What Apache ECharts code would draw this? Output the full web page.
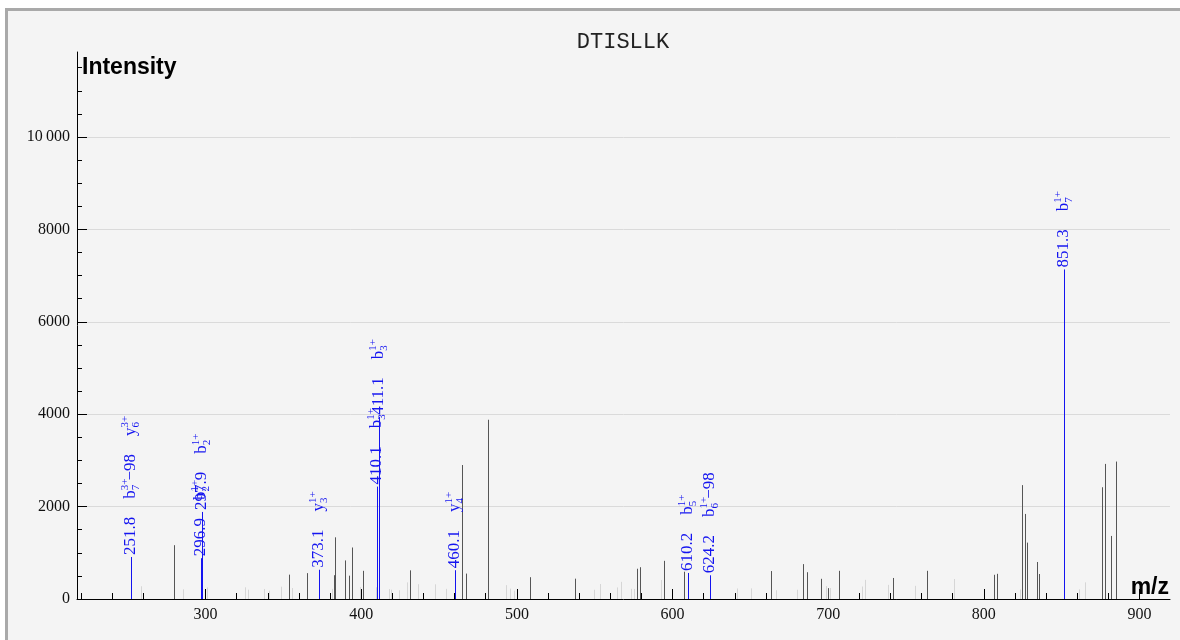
<!DOCTYPE html>
<html>
<head>
<meta charset="utf-8">
<title>DTISLLK</title>
<script src="https://cdn.jsdelivr.net/npm/echarts@6/dist/echarts.min.js"></script>
<style>
    html, body { margin: 0; padding: 0; background: #fff; overflow: hidden; }
    #frame { position: absolute; left: 5px; top: 8px; width: 1200px; height: 700px; border: 3px solid #a9a9a9; background: #f4f4f4; }
    #main { position: absolute; left: 0; top: 0; width: 1180px; height: 640px; }
</style>
</head>
<body>
<div id="frame"></div>
<div id="main"></div>
<script>
// 肽段谱图 - 数据
const peptide = 'DTISLLK';
const xTickLabels = [300, 400, 500, 600, 700, 800, 900];
const yTickLabels = [0, 2000, 4000, 6000, 8000, 10000];

// 已匹配碎片离子（蓝色）
const matchedMz = [251.8, 296.9, 297.9, 373.1, 410.1, 411.1, 460.1, 610.2, 624.2, 851.3];
const matchedIntensity = [866, 840, 820, 590, 2390, 3900, 580, 520, 470, 7090];
const matchedIons = [
    ['b7^3+ \u221298', 'y6^3+'], ['b2^1+'], ['b2^1+'], ['y3^1+'], ['b3^1+'],
    ['b3^1+'], ['y4^1+'], ['b5^1+'], ['b6^1+ \u221298'], ['b7^1+']
];

// 未匹配峰（深灰）
const darkMz = [280.0, 353.3, 365.2, 382.2, 383.4, 389.3, 392.2, 394.2, 401.4, 431.3,
    464.8, 467.5, 481.3, 508.2, 537.4, 577.3, 579.4, 594.4, 607.3, 663.4,
    683.6, 686.5, 695.6, 700.1, 706.7, 741.6, 763.5, 806.6, 808.6, 824.6,
    826.6, 827.8, 833.9, 835.6, 875.7, 877.6, 881.9, 884.7];
const darkIntensity = [1165, 527, 560, 515, 1335, 835, 505, 1115, 610, 620,
    2900, 550, 3880, 472, 440, 655, 688, 826, 590, 605,
    755, 580, 437, 235, 610, 455, 610, 524, 545, 2465,
    1841, 1220, 801, 541, 2419, 2924, 1365, 2975];

// 噪声峰（浅灰）
const lightMz = [258.2, 285.2, 301.0, 325.4, 327.5, 337.4, 340.9, 348.3, 355.4, 381.2,
    399.4, 409.2, 417.7, 419.3, 424.4, 429.3, 436.3, 447.2, 454.2, 493.2,
    495.7, 498.2, 549.4, 553.4, 564.3, 566.8, 573.4, 575.1, 592.3, 641.5,
    650.4, 666.4, 679.7, 698.6, 701.1, 721.8, 723.5, 738.6, 755.6, 780.7,
    823.2, 861.3, 864.7];
const lightIntensity = [275, 210, 250, 253, 202, 217, 180, 267, 238, 220,
    260, 253, 215, 202, 190, 360, 320, 318, 220, 300,
    224, 180, 200, 325, 250, 372, 220, 217, 412, 228,
    230, 190, 200, 280, 238, 270, 415, 306, 285, 433,
    205, 209, 361];

const blue = '#1414f0';
const labelFont = 'Liberation Serif';

// 刻度位置
const minorX = [];
for (let v = 220; v <= 900; v += 20) {
    if (v % 100 !== 0) minorX.push(v);
}
const minorY = [];
for (let v = 500; v <= 11500; v += 500) {
    if (v % 2000 !== 0) minorY.push(v);
}

function pairs(xs, ys) {
    return xs.map((x, i) => [x, ys[i]]);
}

// 竖线峰
function peakRenderer(color) {
    return function (params, api) {
        const base = api.coord([api.value(0), 0]);
        const top = api.coord([api.value(0), api.value(1)]);
        const x = Math.round(base[0]) + 0.5;
        return {
            type: 'line',
            shape: { x1: x, y1: base[1], x2: x, y2: top[1] },
            style: { stroke: color, lineWidth: 1 }
        };
    };
}

// 离子名称 -> 富文本
function ionRich(s) {
    const m = s.match(/^([a-z])(\d+)\^(\d\+)(.*)$/);
    let txt = `{ion|${m[1]}}{sup|${m[3]}}{sub|${m[2]}}`;
    if (m[4]) txt += `{ion|${m[4]}}`;
    return txt;
}

const measureCtx = document.createElement('canvas').getContext('2d');
measureCtx.font = `17px "${labelFont}"`;

let prevLabel = null;
function matchedRenderer(params, api) {
    if (params.dataIndex === 0) prevLabel = null;
    const i = params.dataIndex;
    const base = api.coord([api.value(0), 0]);
    const top = api.coord([api.value(0), api.value(1)]);
    const x = Math.round(base[0]) + 0.5;
    const numText = matchedMz[i].toFixed(1);
    let start = top[1] - 4;
    // 避免与相邻标签重叠
    if (prevLabel && x - prevLabel.x < 12 && start > prevLabel.numEnd - 8) {
        start = prevLabel.numEnd - 8;
    }
    const numWidth = measureCtx.measureText(numText).width;
    prevLabel = { x: x, numEnd: start - numWidth };

    const text = `{num|${numText}}` + matchedIons[i].map(s => '{gap| }' + ionRich(s)).join('');
    return {
        type: 'group',
        children: [
            {
                type: 'line',
                shape: { x1: x, y1: base[1], x2: x, y2: Math.min(top[1], start + 2) },
                style: { stroke: blue, lineWidth: 1 }
            },
            {
                type: 'text',
                x: x - 1,
                y: start,
                rotation: Math.PI / 2,
                style: {
                    text: text,
                    fill: blue,
                    align: 'left',
                    verticalAlign: 'middle',
                    fontFamily: labelFont,
                    fontSize: 17,
                    rich: {
                        num: { fontFamily: labelFont, fontSize: 17, fill: blue },
                        ion: { fontFamily: labelFont, fontSize: 17, fill: blue, lineHeight: 22 },
                        gap: { fontFamily: labelFont, fontSize: 17, width: 18 },
                        sup: { fontFamily: labelFont, fontSize: 11, fill: blue, verticalAlign: 'top', width: 0.01, lineHeight: 11 },
                        sub: { fontFamily: labelFont, fontSize: 11, fill: blue, verticalAlign: 'bottom', lineHeight: 11 }
                    }
                }
            }
        ]
    };
}

const xMin = 217.4;
const xMax = 919.6;
const yMax = 11840;

const axisText = { fontFamily: labelFont, fontSize: 16, color: '#111' };

const chart = echarts.init(document.getElementById('main'), null, { renderer: 'canvas' });

const option = {
    animation: false,
    backgroundColor: 'transparent',
    title: {
        text: peptide,
        left: 618,
        textAlign: 'center',
        top: 26,
        textStyle: { fontFamily: 'Liberation Mono', fontSize: 22, fontWeight: 'normal', color: '#222' }
    },
    grid: { left: 77, right: 10, top: 52, bottom: 41, outerBoundsMode: 'none' },
    xAxis: [
        {
            type: 'value',
            min: xMin,
            max: xMax,
            name: 'm/z',
            nameLocation: 'end',
            nameGap: -1,
            nameTextStyle: { fontFamily: 'Liberation Sans', fontSize: 23, fontWeight: 'bold', color: '#000', align: 'right', verticalAlign: 'bottom' },
            axisLine: { show: true, lineStyle: { color: '#000', width: 1 } },
            axisTick: { show: true, inside: true, length: 6, customValues: minorX, lineStyle: { color: '#000' } },
            axisLabel: { show: true, margin: 8, customValues: xTickLabels, ...axisText },
            splitLine: { show: false }
        },
        {
            type: 'value',
            min: xMin,
            max: xMax,
            position: 'bottom',
            axisLine: { show: false },
            axisTick: { show: true, inside: true, length: 10, customValues: xTickLabels, lineStyle: { color: '#000' } },
            axisLabel: { show: false },
            splitLine: { show: false }
        }
    ],
    yAxis: [
        {
            type: 'value',
            min: 0,
            max: yMax,
            interval: 2000,
            name: 'Intensity',
            nameLocation: 'end',
            nameGap: -16,
            nameTextStyle: { fontFamily: 'Liberation Sans', fontSize: 23, fontWeight: 'bold', color: '#000', align: 'left', verticalAlign: 'middle', padding: [0, 0, 0, 5] },
            axisLine: { show: true, lineStyle: { color: '#000', width: 1 } },
            axisTick: { show: true, inside: true, length: 10, customValues: yTickLabels, lineStyle: { color: '#000' } },
            axisLabel: {
                show: true,
                margin: 7,
                customValues: yTickLabels,
                formatter: v => v >= 10000 ? String(v).replace(/(\d)(\d{3})$/, '$1\u2009$2') : String(v),
                ...axisText
            },
            splitLine: { show: true, lineStyle: { color: '#dadada', width: 1 } }
        },
        {
            type: 'value',
            min: 0,
            max: yMax,
            position: 'left',
            axisLine: { show: false },
            axisTick: { show: true, inside: true, length: 5, customValues: minorY, lineStyle: { color: '#000' } },
            axisLabel: { show: false },
            splitLine: { show: false }
        }
    ],
    series: [
        {
            name: 'noise',
            type: 'custom',
            renderItem: peakRenderer('#d6d6d6'),
            encode: { x: 0, y: 1 },
            data: pairs(lightMz, lightIntensity),
            silent: true
        },
        {
            name: 'unmatched',
            type: 'custom',
            renderItem: peakRenderer('#555555'),
            encode: { x: 0, y: 1 },
            data: pairs(darkMz, darkIntensity),
            silent: true
        },
        {
            name: 'matched',
            type: 'custom',
            renderItem: matchedRenderer,
            encode: { x: 0, y: 1 },
            data: pairs(matchedMz, matchedIntensity),
            clip: false,
            silent: true
        }
    ]
};

chart.setOption(option);
</script>
</body>
</html>
